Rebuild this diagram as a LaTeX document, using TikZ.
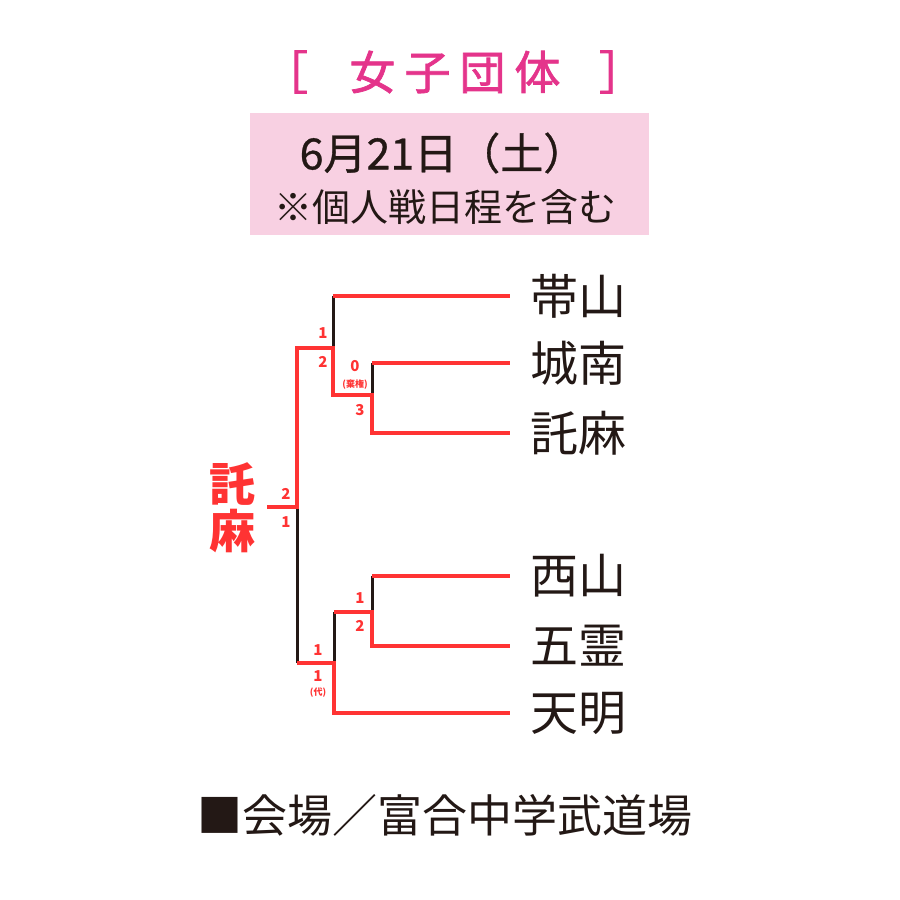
\documentclass[tikz,border=0pt]{standalone}
\usepackage{fontspec}
\newfontfamily\jp{Noto Sans CJK JP}
\definecolor{lred}{HTML}{FF3333}
\definecolor{ink}{HTML}{231815}
\definecolor{mag}{HTML}{E4348B}
\definecolor{pinkbg}{HTML}{F8D0E2}
\tikzset{
  team/.style={font=\jp\fontsize{48}{48}\selectfont, text=ink, inner sep=0pt, anchor=west},
  heading/.style={font=\jp\addfontfeature{FakeBold=1.6}\fontsize{46}{46}\selectfont, text=mag},
  score/.style={font=\jp\bfseries\fontsize{15}{15}\selectfont, text=lred, inner sep=0pt},
  remark/.style={font=\jp\bfseries\fontsize{9}{9}\selectfont, text=lred, inner sep=0pt},
  rl/.style={lred, line width=4.5pt},
  bl/.style={ink, line width=3pt}
}

\begin{document}
\begin{tikzpicture}[x=1pt,y=-1pt]
\useasboundingbox (0,0) rectangle (900,900);
\node[fill=pinkbg, minimum width=399pt, minimum height=122pt, inner sep=0pt] (datebox) at (449.5,174) {};
\node[heading] (title) at (455,72) {女\hspace{9pt}子\hspace{9pt}団\hspace{9pt}体};
\node[heading] (lbr) at (285,72) {［};
\node[heading] (rbr) at (622,72) {］};
\node[font=\jp\addfontfeature{FakeBold=0.8}\fontsize{43}{43}\selectfont, text=ink] (date) at (443,153) {6月21日（土）};
\node[font=\jp\fontsize{38}{38}\selectfont, text=ink] (sub) at (445,207) {※個人戦日程を含む};

\foreach \t/\y [count=\i] in {帯山/296, 城南/363, 託麻/433, 西山/576, 五霊/646, 天明/713}
	\node[team] (team\i) at (530,\y) {\t};

\coordinate (m1) at (333,348);
\coordinate (s1) at (372,395);
\coordinate (f) at (297,507);
\coordinate (champ) at (267,507);
\coordinate (s2) at (372,612);
\coordinate (m2) at (334,663);

\draw[bl] (m1 |- team1) -- (m1);
\draw[bl] (s1 |- team2) -- (s1);
\draw[bl] (f) -- (f |- m2);
\draw[bl] (m2 |- s2) -- (m2);
\draw[bl] (s2 |- team4) -- (s2);

\foreach \i/\c in {1/m1, 2/s1, 4/s2}
	\draw[rl] (\c |- team\i) -- ([xshift=-20pt]team\i.west);
\draw[rl] (champ) -- (f) -- (f |- m1) -- (m1) -- (m1 |- s1) -- (s1) -- (s1 |- team3) -- ([xshift=-20pt]team3.west);
\draw[rl] (m2 |- s2) -- (s2) -- (s2 |- team5) -- ([xshift=-20pt]team5.west);
\draw[rl] (f |- m2) -- (m2) -- (m2 |- team6) -- ([xshift=-20pt]team6.west);

\node[font=\jp\bfseries\fontsize{46}{47}\selectfont, text=lred, align=center, inner sep=0pt] (winner) at (232,508) {託\\麻};

\foreach \s/\x/\y [count=\i] in {1/323/333, 2/323/362, 0/355/366, 3/360/410, 2/286/494, 1/286/522, 1/360/598, 2/360/626, 1/318/650, 1/318/676}
	\node[score] (score\i) at (\x,\y) {\s};
\node[remark] (forfeit) at (355,385) {(棄権)};
\node[remark] (sub) at (318,693) {(代)};

\node[font=\jp\fontsize{45}{45}\selectfont, text=ink, anchor=west, inner sep=0pt] (venue) at (197,815) {■会場／富合中学武道場};
\end{tikzpicture}
\end{document}
